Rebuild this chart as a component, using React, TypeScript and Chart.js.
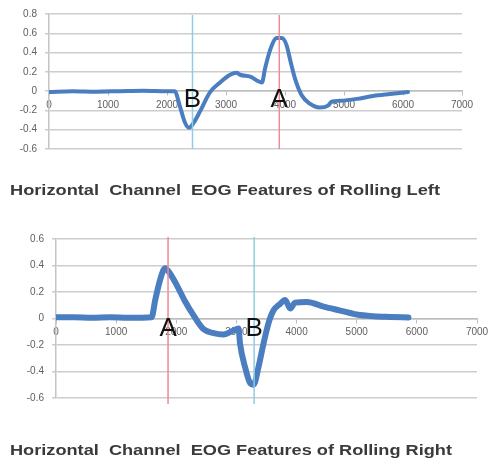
import React, { useEffect, useRef } from 'react';
import { Chart, registerables } from 'chart.js';

Chart.register(...registerables);

// ---------- data ----------
const xTickValues = [0, 1000, 2000, 3000, 4000, 5000, 6000, 7000];

const leftX = [0, 400, 800, 1200, 1600, 2000, 2130, 2220, 2300, 2373, 2450, 2560, 2730, 2900, 3070, 3180, 3240, 3410, 3610, 3660, 3750, 3860, 3945, 4030, 4085, 4170, 4280, 4420, 4590, 4730, 4790, 4930, 5215, 5495, 5780, 6085];
const leftY = [-0.01, 0.0, -0.005, 0.0, 0.005, 0.0, 0.0, -0.16, -0.32, -0.38, -0.33, -0.21, -0.01, 0.09, 0.17, 0.19, 0.17, 0.15, 0.09, 0.23, 0.43, 0.55, 0.55, 0.47, 0.33, 0.13, -0.04, -0.13, -0.17, -0.15, -0.11, -0.1, -0.08, -0.05, -0.03, -0.01];

const rightX = [0, 300, 600, 900, 1200, 1590, 1650, 1730, 1815, 1895, 2010, 2145, 2285, 2450, 2620, 2785, 2950, 3035, 3060, 3145, 3230, 3285, 3365, 3450, 3530, 3615, 3725, 3810, 3895, 3975, 4170, 4450, 4725, 5000, 5280, 5560, 5860];
const rightY = [0.01, 0.01, 0.005, 0.01, 0.005, 0.01, 0.14, 0.29, 0.38, 0.34, 0.25, 0.13, 0.025, -0.08, -0.11, -0.12, -0.09, -0.075, -0.19, -0.37, -0.49, -0.5, -0.37, -0.19, -0.04, 0.06, 0.11, 0.14, 0.075, 0.12, 0.125, 0.09, 0.06, 0.03, 0.017, 0.012, 0.008];

const leftMarkerX = [2432, 3903];
const leftMarkerLabels = ['B', 'A'];
const leftMarkerColors = ['#8fcde6', '#f08a94'];

const rightMarkerX = [1863, 3294];
const rightMarkerLabels = ['A', 'B'];
const rightMarkerColors = ['#f08a94', '#8fcde6'];

const leftTitle = 'Horizontal  Channel  EOG Features of Rolling Left';
const rightTitle = 'Horizontal  Channel  EOG Features of Rolling Right';

// ---------- chart helper ----------
type Cfg = {
  xs: number[];
  ys: number[];
  yMin: number;
  yMax: number;
  markerX: number[];
  markerLabels: string[];
  markerColors: string[];
  title: string;
  titleWidth: number;
  titleBaseline: number;
  yWidth: number;
  padding: { left: number; right: number; top: number; bottom: number };
  lineWidth: number;
  lineExtTop: number;
  lineExtBottom: number;
  labelValue: number;
};

function makeChart(canvas: HTMLCanvasElement, c: Cfg) {
  const fmt = (v: any) => {
    const n = Number(Number(v).toFixed(1));
    return n === 0 ? '0' : String(n);
  };
  const overlay = {
    id: 'overlay',
    afterDatasetsDraw(chart: any) {
      const { ctx, chartArea } = chart;
      const xs = chart.scales.x;
      const ysc = chart.scales.y;
      ctx.save();
      c.markerX.forEach((mx, i) => {
        const px = xs.getPixelForValue(mx);
        ctx.strokeStyle = c.markerColors[i];
        ctx.lineWidth = 1.5;
        ctx.beginPath();
        ctx.moveTo(px, chartArea.top - c.lineExtTop);
        ctx.lineTo(px, chartArea.bottom + c.lineExtBottom);
        ctx.stroke();
      });
      ctx.fillStyle = '#111111';
      ctx.font = '26px "Liberation Sans", Arial, sans-serif';
      ctx.textAlign = 'center';
      ctx.textBaseline = 'middle';
      c.markerX.forEach((mx, i) => {
        const px = xs.getPixelForValue(mx);
        const py = ysc.getPixelForValue(c.labelValue);
        ctx.fillText(c.markerLabels[i], px, py);
      });
      ctx.restore();
    },
    afterDraw(chart: any) {
      const { ctx } = chart;
      ctx.save();
      ctx.font = 'bold 15px "Liberation Sans", Arial, sans-serif';
      ctx.fillStyle = '#3a3a3a';
      ctx.textAlign = 'left';
      ctx.textBaseline = 'alphabetic';
      const w = ctx.measureText(c.title).width;
      ctx.translate(10, c.titleBaseline);
      ctx.scale(c.titleWidth / w, 1);
      ctx.fillText(c.title, 0, 0);
      ctx.restore();
    },
  };

  return new Chart(canvas, {
    type: 'line',
    data: {
      datasets: [
        {
          data: c.xs.map((x, i) => ({ x, y: c.ys[i] })),
          borderColor: '#4a7ec0',
          backgroundColor: '#4a7ec0',
          borderWidth: c.lineWidth,
          pointRadius: 0,
          cubicInterpolationMode: 'monotone',
          fill: false,
          borderCapStyle: 'round',
          borderJoinStyle: 'round',
        },
      ],
    },
    options: {
      animation: false,
      responsive: true,
      maintainAspectRatio: false,
      layout: { padding: c.padding },
      plugins: {
        legend: { display: false },
        tooltip: { enabled: false },
        title: { display: false },
      },
      scales: {
        x: {
          type: 'linear',
          position: { y: 0 } as any,
          min: 0,
          max: 7000,
          afterBuildTicks: (axis: any) => {
            axis.ticks = xTickValues.map((v) => ({ value: v }));
          },
          ticks: {
            color: '#606060',
            font: { size: 10, family: '"Liberation Sans", Arial, sans-serif' },
            padding: 4,
            maxRotation: 0,
            autoSkip: false,
            callback: (v: any) => String(v),
          },
          grid: {
            display: true,
            drawOnChartArea: false,
            drawTicks: true,
            tickLength: 4,
            color: '#bdbdbd',
          },
          border: { display: true, color: '#bdbdbd', width: 1.5 },
        },
        y: {
          type: 'linear',
          min: c.yMin,
          max: c.yMax,
          afterFit: (axis: any) => {
            axis.width = c.yWidth;
          },
          ticks: {
            stepSize: 0.2,
            color: '#606060',
            font: { size: 10, family: '"Liberation Sans", Arial, sans-serif' },
            padding: 8,
            callback: fmt,
          },
          grid: {
            color: '#cdcdcd',
            lineWidth: 1.5,
            tickLength: 4,
          },
          border: { display: true, color: '#c4c4c4', width: 1.5 },
        },
      },
    },
    plugins: [overlay],
  } as any);
}

function Panel({ cfg, top, height }: { cfg: Cfg; top: number; height: number }) {
  const ref = useRef<HTMLCanvasElement | null>(null);
  useEffect(() => {
    if (!ref.current) return;
    const chart = makeChart(ref.current, cfg);
    return () => chart.destroy();
  }, []);
  return (
    <div style={{ position: 'absolute', left: 0, top, width: 494, height }}>
      <canvas ref={ref} />
    </div>
  );
}

const leftCfg: Cfg = {
  xs: leftX,
  ys: leftY,
  yMin: -0.6,
  yMax: 0.8,
  markerX: leftMarkerX,
  markerLabels: leftMarkerLabels,
  markerColors: leftMarkerColors,
  title: leftTitle,
  titleWidth: 430,
  titleBaseline: 195,
  yWidth: 49,
  padding: { left: 0, right: 32, top: 9, bottom: 66 },
  lineWidth: 4,
  lineExtTop: -1,
  lineExtBottom: 0,
  labelValue: -0.09,
};

const rightCfg: Cfg = {
  xs: rightX,
  ys: rightY,
  yMin: -0.6,
  yMax: 0.6,
  markerX: rightMarkerX,
  markerLabels: rightMarkerLabels,
  markerColors: rightMarkerColors,
  title: rightTitle,
  titleWidth: 442,
  titleBaseline: 240,
  yWidth: 56,
  padding: { left: 0, right: 17, top: 24, bottom: 67 },
  lineWidth: 6,
  lineExtTop: 2,
  lineExtBottom: 6,
  labelValue: -0.08,
};

export default function App() {
  return (
    <div style={{ position: 'absolute', left: 0, top: 0, width: 494, height: 465, background: '#ffffff' }}>
      <Panel cfg={leftCfg} top={0} height={215} />
      <Panel cfg={rightCfg} top={215} height={250} />
    </div>
  );
}
